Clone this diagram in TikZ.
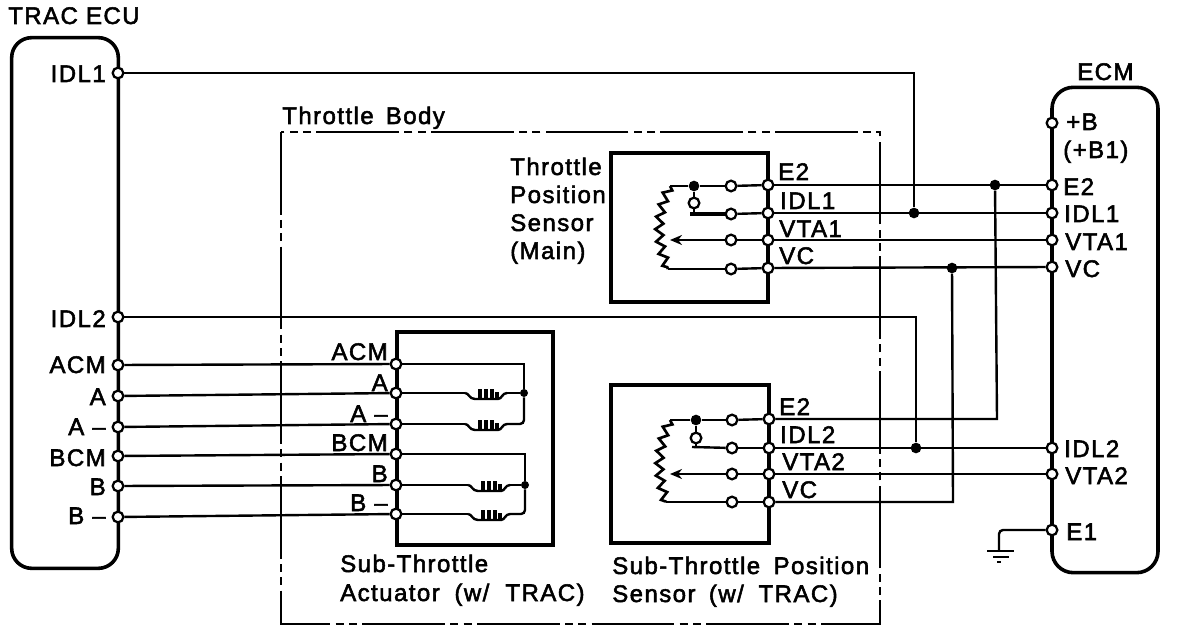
\documentclass[tikz,border=0pt]{standalone}
\usepackage{fontspec}
\setmainfont{Liberation Sans}
\newfontfamily\labfont[FakeBold=2.2,LetterSpace=6]{Liberation Sans}
\usetikzlibrary{arrows.meta,decorations.pathmorphing}
\tikzset{
  px/.style={x=0.75pt,y=-0.75pt},
  panel/.style={draw,line width=2.7pt,inner sep=0pt,rounded corners=#1},
  panel/.default=0pt,
  pin/.style={circle,draw,line width=1.7pt,fill=white,inner sep=0pt,minimum size=8pt},
  wire/.style={line width=1.8pt,line join=miter},
  dot/.style={circle,fill=black,inner sep=0pt,minimum size=8pt},
  lab/.style={inner sep=0pt,font=\labfont\fontsize{18}{20}\selectfont},
  labl/.style={lab,anchor=base west},
  labr/.style={lab,anchor=base east},
  resistor/.style={line width=2pt,decorate,decoration={zigzag,segment length=9pt,amplitude=3pt}},
  tipped/.style={line width=1.8pt,-{Stealth[length=9pt,width=7.5pt]}},
}
\newcommand{\coilat}[2]{%
  \draw[line width=1.8pt] (#1-32,#2) .. controls (#1-28,#2) and (#1-28,#2+6) .. (#1-22,#2+6) -- (#1+1,#2+6)
    .. controls (#1+5,#2+6) and (#1+5,#2) .. (#1+10,#2);
  \draw[line width=2.8pt] (#1-17,#2+6) -- (#1-17,#2-4) (#1-11,#2+6) -- (#1-11,#2-4) (#1-5,#2+6) -- (#1-5,#2-4) (#1+0,#2+6) -- (#1+0,#2-1);
}
\begin{document}
\begin{tikzpicture}[px]
\useasboundingbox (0,0) rectangle (1184,634);
% enclosure
\draw[line width=1.8pt,dash pattern=on 62pt off 4pt on 6pt off 4pt on 6pt off 4pt] (281,132) rectangle (880,624);
% boxes
\node[panel=15pt,minimum width=80pt,minimum height=398pt] (ecu) at (65,303) {};
\node[panel=16pt,minimum width=79.5pt,minimum height=364pt] (ecm) at (1105,330) {};
\node[panel,minimum width=117pt,minimum height=160pt] (act) at (475,438.5) {};
\node[panel,minimum width=118pt,minimum height=112pt] (tps) at (689.5,227.5) {};
\node[panel,minimum width=118.5pt,minimum height=118.5pt] (sps) at (690,464) {};
% wire bends and free points
\coordinate (g) at (999,530);
\coordinate (g1) at (999,550);
% ECU pins
\node[pin] (eIDLa) at (118,73) {};
\node[pin] (eIDLb) at (118,317) {};
\node[pin] (eACM) at (118,365) {};
\node[pin] (eA) at (118,396) {};
\node[pin] (eAm) at (118,427) {};
\node[pin] (eBCM) at (118,456) {};
\node[pin] (eB) at (118,486) {};
\node[pin] (eBm) at (118,517) {};
% actuator pins
\node[pin] (aACM) at (396,364) {};
\node[pin] (aA) at (396,393) {};
\node[pin] (aAm) at (396,424) {};
\node[pin] (aBCM) at (396,454) {};
\node[pin] (aB) at (396,485) {};
\node[pin] (aBm) at (396,514) {};
% main sensor pins
\node[pin] (tE) at (768,185) {};
\node[pin] (tI) at (768,213) {};
\node[pin] (tV) at (768,240) {};
\node[pin] (tC) at (768,268) {};
\node[pin] (tiE) at (731,186) {};
\node[pin] (tiI) at (731,214) {};
\node[pin] (tiV) at (731,240) {};
\node[pin] (tiC) at (731,269) {};
\node[dot] (tJ) at (694,186) {};
\node[pin] (tS) at (694,203) {};
% sub sensor pins
\node[pin] (sE) at (769,419) {};
\node[pin] (sI) at (769,448) {};
\node[pin] (sV) at (769,474) {};
\node[pin] (sC) at (769,502) {};
\node[pin] (siE) at (732,420) {};
\node[pin] (siI) at (732,448) {};
\node[pin] (siV) at (732,474) {};
\node[pin] (siC) at (732,502) {};
\node[dot] (sJ) at (696,420) {};
\node[pin] (sS) at (696,438) {};
% ECM pins
\node[pin] (mB) at (1052,123) {};
\node[pin] (mE) at (1052,185) {};
\node[pin] (mI) at (1052,213) {};
\node[pin] (mV) at (1052,240) {};
\node[pin] (mC) at (1052,267) {};
\node[pin] (mIb) at (1052,448) {};
\node[pin] (mVb) at (1052,474) {};
\node[pin] (mE1) at (1052,530) {};
% junctions
\node[dot] (jI) at (914,213) {};
\node[dot] (jE) at (995,185) {};
\node[dot] (jC) at (952,268) {};
\node[dot] (jIb) at (916,448) {};
\node[dot,minimum size=6pt] (jA) at (524,393) {};
\node[dot,minimum size=6pt] (jB) at (525,485) {};
% wires TRAC ECU to actuator
\draw[wire] (eACM) -- (aACM);
\draw[wire] (eA) -- (aA);
\draw[wire] (eAm) -- (aAm);
\draw[wire] (eBCM) -- (aBCM);
\draw[wire] (eB) -- (aB);
\draw[wire] (eBm) -- (aBm);
% actuator inside
\draw[wire] (aACM) -| (jA);
\draw[wire] (aBCM) -| (jB);
\draw[wire] (aA) -- (465,393);
\draw[wire] (507,393) -- (jA);
\draw[wire] (aAm) -- (465,424);
\draw[wire,rounded corners=3pt] (507,424) -| (jA);
\draw[wire] (aB) -- (468,485);
\draw[wire] (510,485) -- (jB);
\draw[wire] (aBm) -- (468,514);
\draw[wire,rounded corners=3pt] (510,514) -| (jB);
\coilat{497}{393}\coilat{497}{424}\coilat{500}{485}\coilat{500}{514}
% long wires
\draw[wire] (eIDLa) -| (jI);
\draw[wire] (eIDLb) -| (jIb);
% main harness
\draw[wire] (tE) -- (mE);
\draw[wire] (tI) -- (mI);
\draw[wire] (tV) -- (mV);
\draw[wire] (tC) -- (mC);
\draw[wire] (tE) -- (tiE);
\draw[wire] (tI) -- (tiI);
\draw[wire] (tV) -- (tiV);
\draw[wire] (tC) -- (tiC);
\draw[wire] (tiE) -- (tJ);
\draw[wire] (tJ) -- (tS);
\draw[line width=2.6pt] (tiI) -- (690,214);
\draw[wire] (tS) -- (tS |- tiI);
\draw[tipped] (tiV) -- (670,240);
\draw[wire] (tJ) -- (670,186);
\draw[resistor] (670,186) .. controls (656,215) and (656,240) .. (668,269);
\draw[wire] (668,269) -- (tiC);
% sub harness
\draw[wire] (sE) -- (997,419) -- (jE);
\draw[wire] (sI) -- (mIb);
\draw[wire] (sV) -- (mVb);
\draw[wire] (sC) -- (953,502) -- (jC);
\draw[wire] (sE) -- (siE);
\draw[wire] (sI) -- (siI);
\draw[wire] (sV) -- (siV);
\draw[wire] (sC) -- (siC);
\draw[wire] (siE) -- (sJ);
\draw[wire] (sJ) -- (sS);
\draw[wire] (siI) -- (692,447);
\draw[wire] (sS) -- (696,447);
\draw[tipped] (siV) -- (670,474);
\draw[wire] (sJ) -- (670,420);
\draw[resistor] (670,420) .. controls (656,450) and (657,475) .. (666,502);
\draw[wire] (666,502) -- (siC);
% ground
\draw[wire,rounded corners=3pt] (mE1) -- (g) -- (g1);
\draw[line width=2pt] (987,551) -- (1014,551);
\draw[line width=2pt] (993,557) -- (1009,557);
\draw[line width=2pt] (997,562) -- (1001,562);
% labels
\node[labl] (lT) at (8,24) {TRAC ECU};
\node[labl] (lB) at (282,124) {Throttle\hspace{3pt} Body};
\node[labl] (lM) at (1077,80) {ECM};
\node[labr] at (106,82) {IDL1};
\node[labr] at (106,327) {IDL2};
\node[labr] at (106,373) {ACM};
\node[labr] at (106,405) {A};
\node[labr] at (106,435) {A –};
\node[labr] at (106,466) {BCM};
\node[labr] at (106,495) {B};
\node[labr] at (106,524) {B –};
\node[labr] at (388,360) {ACM};
\node[labr] at (388,391) {A};
\node[labr] at (388,422) {A –};
\node[labr] at (388,451) {BCM};
\node[labr] at (388,482) {B};
\node[labr] at (388,511) {B –};
\node[labl] at (510,175) {Throttle};
\node[labl] at (510,203) {Position};
\node[labl] at (510,231) {Sensor};
\node[labl] at (510,259) {(Main)};
\node[labl] at (778,180) {E2};
\node[labl] at (780,209) {IDL1};
\node[labl] at (779,237) {VTA1};
\node[labl] at (779,264) {VC};
\node[labl] at (779,415) {E2};
\node[labl] at (780,443) {IDL2};
\node[labl] at (782,470) {VTA2};
\node[labl] at (782,498) {VC};
\node[labl] at (1066,130) {+B};
\node[labl] at (1063,158) {(+B1)};
\node[labl] at (1063,195) {E2};
\node[labl] at (1064,222) {IDL1};
\node[labl] at (1065,250) {VTA1};
\node[labl] at (1065,277) {VC};
\node[labl] at (1064,457) {IDL2};
\node[labl] at (1065,484) {VTA2};
\node[labl] at (1066,540) {E1};
\node[labl] at (340,572) {Sub-Throttle};
\node[labl] at (340,601) {Actuator\hspace{5pt} (w/\hspace{6pt} TRAC)};
\node[labl] at (612,574) {Sub-Throttle\hspace{4pt} Position};
\node[labl] at (612,602) {Sensor\hspace{4pt} (w/\hspace{5pt} TRAC)};
\end{tikzpicture}
\end{document}
